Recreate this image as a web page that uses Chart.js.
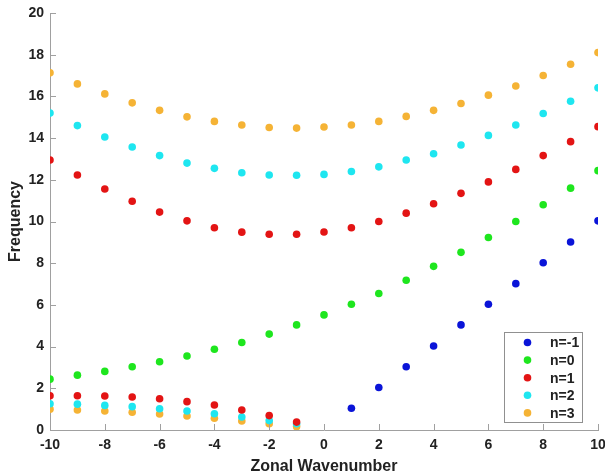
<!DOCTYPE html>
<html>
<head>
<meta charset="utf-8">
<script src="https://cdn.jsdelivr.net/npm/chart.js@4"></script>
<style>
  body { margin: 0; background: #fff; }
  #wrap { width: 605px; height: 476px; }
</style>
</head>
<body>
<div id="wrap"><canvas id="chart" width="605" height="476"></canvas></div>
<script>
// zonal wavenumbers
const kAll = [-10, -9, -8, -7, -6, -5, -4, -3, -2, -1, 0, 1, 2, 3, 4, 5, 6, 7, 8, 9, 10]
const kNeg = [-10, -9, -8, -7, -6, -5, -4, -3, -2, -1]
const kPos = [1, 2, 3, 4, 5, 6, 7, 8, 9, 10]

// n=-1 (Kelvin), only k>0
const nm1 = [1.04, 2.04, 3.03, 4.03, 5.04, 6.03, 7.02, 8.02, 9.02, 10.03]
// n=0
const n0 = [2.44, 2.63, 2.81, 3.03, 3.27, 3.55, 3.87, 4.2, 4.6, 5.04, 5.52, 6.03, 6.55, 7.18, 7.85, 8.52, 9.23, 10.0, 10.8, 11.6, 12.44]
// n=1
const n1 = [12.95, 12.23, 11.56, 10.97, 10.45, 10.03, 9.7, 9.49, 9.39, 9.39, 9.5, 9.7, 10.0, 10.4, 10.85, 11.35, 11.9, 12.5, 13.16, 13.83, 14.55]
const n1Low = [1.64, 1.64, 1.63, 1.58, 1.5, 1.36, 1.2, 0.96, 0.69, 0.38]
// n=2
const n2 = [15.2, 14.6, 14.05, 13.57, 13.16, 12.8, 12.55, 12.34, 12.23, 12.22, 12.26, 12.4, 12.62, 12.95, 13.25, 13.67, 14.13, 14.63, 15.18, 15.77, 16.41]
const n2Low = [1.26, 1.24, 1.18, 1.12, 1.02, 0.91, 0.78, 0.62, 0.45, 0.3]
// n=3
const n3 = [17.13, 16.6, 16.12, 15.69, 15.33, 15.02, 14.8, 14.63, 14.51, 14.48, 14.53, 14.63, 14.8, 15.04, 15.33, 15.66, 16.06, 16.5, 17.0, 17.54, 18.1]
const n3Low = [1.0, 0.96, 0.91, 0.85, 0.77, 0.67, 0.56, 0.43, 0.3, 0.16]

const labels = ['n=-1', 'n=0', 'n=1', 'n=2', 'n=3']
const colors = ['#0a14d8', '#1ee61e', '#e31414', '#1ee6f0', '#f5b335']

function pts(xs, ys) {
    return xs.map((x, i) => ({ x: x, y: ys[i] }))
}

const series = [
    pts(kPos, nm1),
    pts(kAll, n0),
    pts(kAll, n1).concat(pts(kNeg, n1Low)),
    pts(kAll, n2).concat(pts(kNeg, n2Low)),
    pts(kAll, n3).concat(pts(kNeg, n3Low))
]

const datasets = series.map((d, i) => ({
    label: labels[i],
    data: d,
    pointRadius: 3.8,
    pointHoverRadius: 3.8,
    borderWidth: 0,
    backgroundColor: colors[i],
    borderColor: colors[i]
}))

// inward tick marks
const innerTicks = {
    id: 'innerTicks',
    afterDraw(chart) {
        const ctx = chart.ctx
        const xs = chart.scales.x, ys = chart.scales.y
        const a = chart.chartArea
        ctx.save()
        ctx.strokeStyle = '#a0a0a0'
        ctx.lineWidth = 1
        ctx.beginPath()
        xs.ticks.forEach(t => {
            const px = Math.round(xs.getPixelForValue(t.value)) + 0.5
            ctx.moveTo(px, a.bottom)
            ctx.lineTo(px, a.bottom - 6)
        })
        ys.ticks.forEach(t => {
            const py = Math.round(ys.getPixelForValue(t.value)) + 0.5
            ctx.moveTo(a.left, py)
            ctx.lineTo(a.left + 6, py)
        })
        ctx.stroke()
        ctx.restore()
    }
}

// boxed legend in the lower right of the plot
const boxLegend = {
    id: 'boxLegend',
    afterDraw(chart) {
        const ctx = chart.ctx
        const a = chart.chartArea
        const w = 78, h = 90
        const bx = a.right - 16 - w, by = a.bottom - 8 - h
        ctx.save()
        ctx.fillStyle = '#fff'
        ctx.fillRect(bx, by, w, h)
        ctx.strokeStyle = '#909090'
        ctx.lineWidth = 1
        ctx.strokeRect(Math.round(bx) + 0.5, Math.round(by) + 0.5, w, h)
        ctx.font = 'bold 14px "Liberation Sans", Arial, sans-serif'
        ctx.textBaseline = 'middle'
        chart.data.datasets.forEach((ds, i) => {
            const y = by + 10.5 + i * 17.6
            ctx.fillStyle = ds.backgroundColor
            ctx.beginPath()
            ctx.arc(bx + 23.5, y, 3.8, 0, Math.PI * 2)
            ctx.fill()
            ctx.fillStyle = '#222'
            ctx.fillText(ds.label, bx + 46, y + 1)
        })
        ctx.restore()
    }
}

const tickFont = { family: '"Liberation Sans", Arial, sans-serif', size: 14, weight: 'bold' }
const titleFont = { family: '"Liberation Sans", Arial, sans-serif', size: 16, weight: 'bold' }

new Chart(document.getElementById('chart'), {
    type: 'scatter',
    data: { datasets: datasets },
    plugins: [innerTicks, boxLegend],
    options: {
        responsive: false,
        animation: false,
        layout: { padding: { top: 13, right: 7, left: 0, bottom: 0 } },
        plugins: {
            legend: { display: false },
            tooltip: { enabled: false }
        },
        scales: {
            x: {
                type: 'linear',
                min: -10,
                max: 10,
                afterFit(s) { s.height = 46; s.paddingRight = 0; s.paddingLeft = 0 },
                grid: { display: false, drawTicks: false },
                border: { display: true, color: '#a0a0a0' },
                ticks: { stepSize: 2, font: tickFont, color: '#222', padding: 7, maxRotation: 0 },
                title: { display: true, text: 'Zonal Wavenumber', font: titleFont, color: '#222', padding: { top: 0, bottom: 0 } }
            },
            y: {
                min: 0,
                max: 20,
                afterFit(s) { s.width = 50; s.paddingTop = 0; s.paddingBottom = 0 },
                grid: { display: false, drawTicks: false },
                border: { display: true, color: '#a0a0a0' },
                ticks: { stepSize: 2, font: tickFont, color: '#222', padding: 6 },
                title: { display: true, text: 'Frequency', font: titleFont, color: '#222', padding: { top: 6, bottom: 0 } }
            }
        }
    }
})
</script>
</body>
</html>
